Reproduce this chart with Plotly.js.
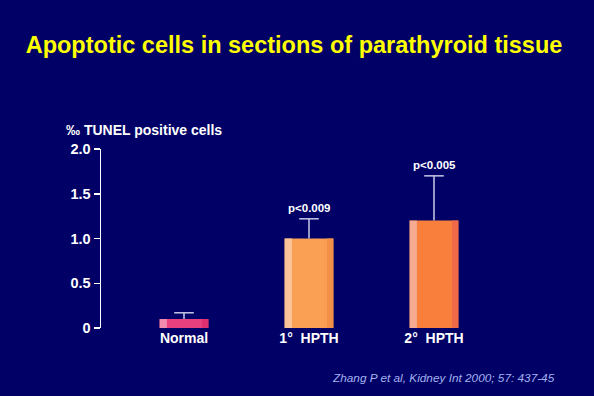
<!DOCTYPE html>
<html><head><meta charset="utf-8">
<script src="https://cdn.plot.ly/plotly-3.0.1.min.js"></script>
<style>html,body{margin:0;padding:0;background:#000066;}</style>
</head><body>
<div id="chart" style="width:594px;height:396px;"></div>
<script>
var categories = ['Normal', '1°  HPTH', '2°  HPTH'];
var values = [0.1, 1.0, 1.2];
var errorsUp = [0.07, 0.22, 0.5];
var pLabels = ['', 'p<0.009', 'p<0.005'];
var tickVals = [0, 0.5, 1.0, 1.5, 2.0];
var tickText = ['0', '0.5', '1.0', '1.5', '2.0'];

var mainColors = ['#e8407e', '#f9a055', '#f8803c'];
var lightColors = ['#f28ab0', '#fbc49a', '#f4ab92'];
var darkColors = ['#e03070', '#f39048', '#f06a48'];

var idx = categories.map(function(c, i){ return i; });
var tops = values.map(function(v, i){ return v + errorsUp[i]; });
var barW = 0.39;
var font = 'Liberation Sans, Arial, sans-serif';
var errColor = '#c8c8e8';

var traces = [
  {type:'bar', x: idx, y: values, width: barW, marker:{color: mainColors, line:{width:0}}, hoverinfo:'none'},
  {type:'bar', x: idx, y: values, width: barW*0.15, offset: -barW/2, marker:{color: lightColors, line:{width:0}}, hoverinfo:'none'},
  {type:'bar', x: idx, y: values, width: barW*0.13, offset: barW/2 - barW*0.13, marker:{color: darkColors, line:{width:0}}, hoverinfo:'none'},
  {type:'scatter', mode:'markers', x: idx, y: values, marker:{size:0.1, color:'rgba(0,0,0,0)'}, hoverinfo:'none',
   error_y:{type:'data', symmetric:false, array: errorsUp, arrayminus: values.map(function(){return 0;}), color: errColor, thickness:1.5, width:0}},
  {type:'scatter', mode:'markers', x: idx, y: tops, hoverinfo:'none',
   marker:{symbol:'line-ew', size:14, line:{color: errColor, width:1.5}}}
];

var annotations = [];
annotations.push({xref:'paper', yref:'paper', x:-0.09, y:1.0, yshift:19, xanchor:'left', yanchor:'middle', showarrow:false,
  text:'<b>‰ TUNEL positive cells</b>', font:{family:font, size:14, color:'#ffffff'}});
idx.forEach(function(i){
  if (pLabels[i]) {
    annotations.push({x:i, y: tops[i], yshift:3, yanchor:'bottom', showarrow:false,
      text:'<b>' + pLabels[i] + '</b>', font:{family:font, size:11.5, color:'#ffffff'}});
  }
});
annotations.push({xref:'paper', yref:'paper', x:1.096, y:-0.28, xanchor:'right', yanchor:'middle', showarrow:false,
  text:'<i>Zhang P et al, Kidney Int 2000; 57: 437-45</i>', font:{family:font, size:11.8, color:'#a4b2f0'}});

var layout = {
  width:594, height:396,
  paper_bgcolor:'#000066', plot_bgcolor:'#000066',
  margin:{l:101, r:77, t:149, b:68},
  barmode:'overlay',
  showlegend:false,
  title:{text:'<b>Apoptotic cells in sections of parathyroid tissue</b>', x:0.495, xanchor:'center', y:0.886, yanchor:'middle',
    font:{family:font, size:23.5, color:'#ffff00'}},
  xaxis:{range:[-0.664, 2.664], tickvals: idx, ticktext: categories, showline:false, showgrid:false, zeroline:false,
    ticks:'', tickfont:{family:font, size:14, color:'#ffffff', weight:'bold'}, fixedrange:true},
  yaxis:{range:[0, 2], tickvals: tickVals, ticktext: tickText, showline:true, linecolor:'#ffffff', linewidth:1.5,
    ticks:'outside', ticklen:6, tickcolor:'#ffffff', tickwidth:1.5, showgrid:false, zeroline:false,
    tickfont:{family:font, size:14.5, color:'#ffffff', weight:'bold'}, fixedrange:true},
  annotations: annotations
};

Plotly.newPlot('chart', traces, layout, {displayModeBar:false, staticPlot:true});
</script>
</body></html>
